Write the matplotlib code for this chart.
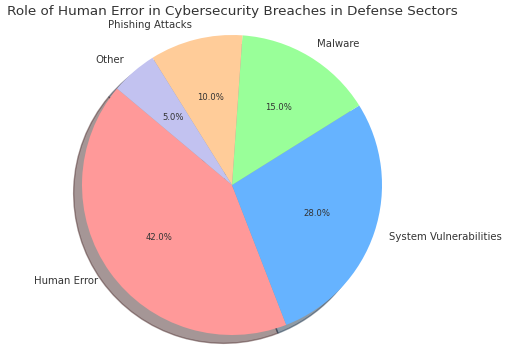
import matplotlib
matplotlib.use("Agg")
import matplotlib.pyplot as plt

labels = ["Human Error", "System Vulnerabilities", "Malware", "Phishing Attacks", "Other"]
sizes = [42, 28, 15, 10, 5]
colors = ["#ff9999", "#66b3ff", "#99ff99", "#ffcc99", "#c2c2f0"]
title = "Role of Human Error in Cybersecurity Breaches in Defense Sectors"

W, H = 508, 356
fig = plt.figure(figsize=(W / 100, H / 100), dpi=100)
cx, cy, r = 232, 185, 150
side = 2.5 * r
ax = fig.add_axes([(cx - side / 2) / W, (H - cy - side / 2) / H, side / W, side / H])

wedges, texts, autotexts = ax.pie(
    sizes, labels=labels, colors=colors, autopct="%1.1f%%", startangle=140,
    shadow={"ox": -0.04, "oy": -0.04},
    textprops={"fontsize": 7.25, "color": "#333333"},
)
for t in autotexts:
    t.set_fontsize(6.1)
ax.set_xlim(-1.25, 1.25)
ax.set_ylim(-1.25, 1.25)
ax.set_aspect("equal")
ax.axis("off")

fig.text(cx / W, 1 - 12 / H, title, ha="center", va="center", fontsize=9.7, color="#333333")

fig.savefig("out.png", dpi=100)
